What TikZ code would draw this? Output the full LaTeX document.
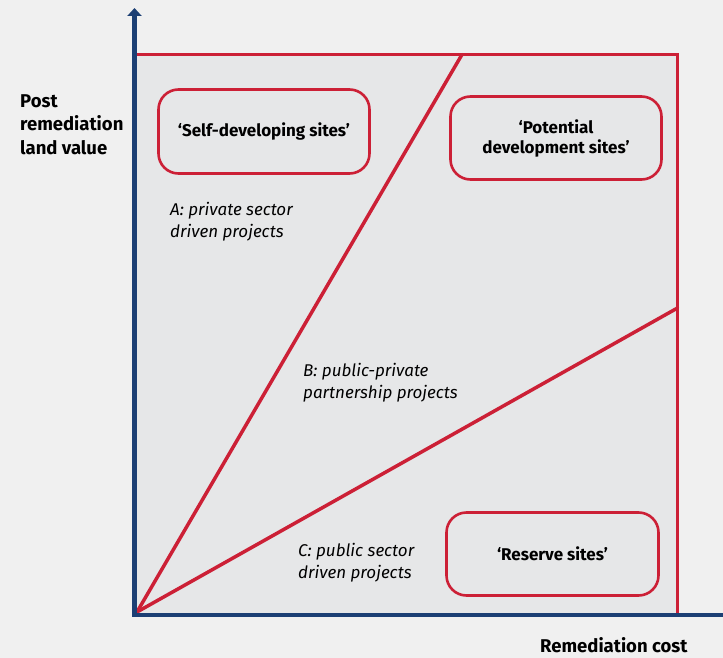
\documentclass[tikz,border=0pt]{standalone}
\usepackage{fontspec}
\setmainfont{Fira Sans}
\usetikzlibrary{arrows.meta}
\definecolor{redc}{HTML}{CC2036}
\definecolor{navy}{HTML}{1C3F74}
\definecolor{bgout}{HTML}{F0F0F0}
\definecolor{bgin}{HTML}{E6E7E8}
\begin{document}
\begin{tikzpicture}[x=1pt,y=-1pt,
  site/.style={draw=redc,line width=2.6pt,rounded corners=20pt,align=center,
    inner sep=0pt,font=\bfseries\fontsize{17}{20}\selectfont},
  zone/.style={font=\itshape\fontsize{17}{22}\selectfont,align=left,anchor=north west,inner sep=0pt},
  axislabel/.style={font=\bfseries\fontsize{18.5}{23.5}\selectfont,align=left,anchor=north west,inner sep=0pt},
  border/.style={draw=redc,line width=2.8pt},
  divider/.style={draw=redc,line width=3.5pt,line cap=round},
  axis/.style={draw=navy,line width=4.5pt,line join=miter,-{Triangle[width=14pt,length=8pt]}}]
\fill[bgout] (0,0) rectangle (723,658);
\useasboundingbox (0,0) rectangle (723,658);
\fill[bgin] (137,54) rectangle (678,613);
\coordinate (O) at (137,612);
\coordinate (TL) at (137,54.5);
\coordinate (TR) at (677.5,54.5);
\coordinate (BR) at (677.5,613);
\coordinate (P1) at (462,54.5);
\coordinate (P2) at (677.5,308);
\path[border] (TL) -- (TR) -- (BR);
\path[divider] (O) -- (P1);
\path[divider] (O) -- (P2);
\coordinate (Xend) at (723,615);
\coordinate (Corner) at (134.5,615);
\coordinate (Ytop) at (134.5,8);
\path[axis] (Xend) -- (Corner) -- (Ytop);
\node[site,minimum width=211pt,minimum height=84pt] (self) at (264,131.5) {‘Self-developing sites’};
\node[site,minimum width=211pt,minimum height=83pt] (potential) at (556,138) {‘Potential\\development sites’};
\node[site,minimum width=212pt,minimum height=83pt] (reserve) at (552.5,554) {‘Reserve sites’};
\node[zone] (zoneA) at (170,202) {A: private sector\\driven projects};
\node[zone] (zoneB) at (303,363) {B: public-private\\partnership projects};
\node[zone] (zoneC) at (298,543) {C: public sector\\driven projects};
\node[axislabel] (ylabel) at (20,94) {Post\\remediation\\land value};
\node[axislabel] (xlabel) at (540,637) {Remediation cost};
\end{tikzpicture}
\end{document}
